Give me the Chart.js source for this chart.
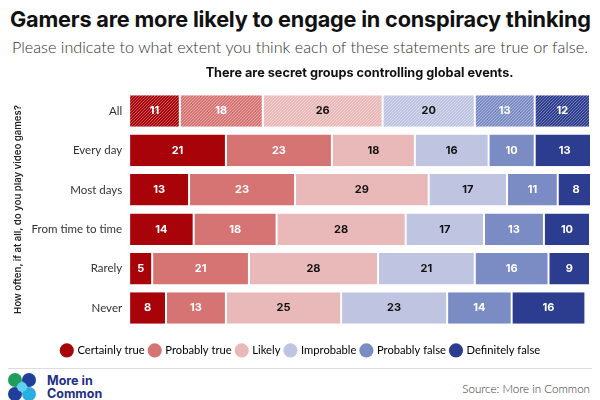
<!DOCTYPE html>
<html>
<head>
<meta charset="utf-8">
<script src="https://cdn.jsdelivr.net/npm/chart.js@4.4.0/dist/chart.umd.min.js"></script>
<style>
  html, body { margin: 0; padding: 0; background: #fff; }
  body { width: 600px; height: 400px; position: relative; overflow: hidden; font-family: Lato, "Noto Sans", sans-serif; }
  #title { position: absolute; left: 10px; top: 6px; font-family: Inter, sans-serif; font-weight: 700; font-size: 21.7px; color: #111; white-space: nowrap; letter-spacing: -0.2px; }
  #subtitle { position: absolute; left: 12px; top: 37px; font-size: 16.2px; color: #333; white-space: nowrap; font-weight: 300; }
  #wrap { position: absolute; left: 0; top: 62px; width: 600px; height: 304px; }
  #rule { position: absolute; left: 8px; right: 8px; top: 368px; border-top: 1px solid #ddd; }
  #logo { position: absolute; left: 8px; top: 373px; }
  #brand { position: absolute; left: 47px; top: 374px; font-family: Inter, sans-serif; font-weight: 700; font-size: 12.5px; line-height: 13px; color: #1f2f86; }
  #source { position: absolute; right: 10px; top: 382px; font-size: 11.6px; color: #333; font-weight: 300; }
</style>
</head>
<body>
<div id="title">Gamers are more likely to engage in conspiracy thinking</div>
<div id="subtitle">Please indicate to what extent you think each of these statements are true or false.</div>
<div id="wrap"><canvas id="myChart"></canvas></div>
<div id="rule"></div>
<svg id="logo" width="28" height="28" viewBox="0 0 28 28">
  <circle cx="7" cy="7" r="7" fill="#1e9e5a"/>
  <circle cx="21" cy="7" r="7" fill="#1f3f9a"/>
  <circle cx="7" cy="21" r="7" fill="#1f3f9a"/>
  <circle cx="21" cy="21" r="7" fill="#2aaee0"/>
  <circle cx="14" cy="14" r="5" fill="#5fd0f0"/>
</svg>
<div id="brand">More in<br>Common</div>
<div id="source">Source: More in Common</div>
<script>
var categories = ['All', 'Every day', 'Most days', 'From time to time', 'Rarely', 'Never'];
var seriesNames = ['Certainly true', 'Probably true', 'Likely', 'Improbable', 'Probably false', 'Definitely false'];
var certainlyTrue   = [11, 21, 13, 14, 5, 8];
var probablyTrue    = [18, 23, 23, 18, 21, 13];
var likely          = [26, 18, 29, 28, 28, 25];
var improbable      = [20, 16, 17, 17, 21, 23];
var probablyFalse   = [13, 10, 11, 13, 16, 14];
var definitelyFalse = [12, 13, 8, 10, 9, 16];

var colors = ['#a70308', '#d67474', '#e9b9b9', '#bfc4e1', '#7b8bc3', '#2c3c8e'];
var labelColors = ['#fff', '#fff', '#111', '#111', '#fff', '#fff'];

// striped fill for the "All" row
function stripes(color) {
    var c = document.createElement('canvas');
    c.width = 3; c.height = 3;
    var g = c.getContext('2d');
    g.fillStyle = color;
    g.fillRect(0, 0, 3, 3);
    g.strokeStyle = 'rgba(255,255,255,0.4)';
    g.lineWidth = 0.9;
    g.beginPath();
    g.moveTo(0, 3); g.lineTo(3, 0);
    g.moveTo(-1, 1); g.lineTo(1, -1);
    g.moveTo(2, 4); g.lineTo(4, 2);
    g.stroke();
    return g.createPattern(c, 'repeat');
}

var allData = [certainlyTrue, probablyTrue, likely, improbable, probablyFalse, definitelyFalse];
var datasets = allData.map(function(d, i) {
    var bg = d.map(function(v, j) { return j === 0 ? stripes(colors[i]) : colors[i]; });
    return {
        label: seriesNames[i],
        data: d,
        backgroundColor: bg,
        borderColor: '#fff',
        borderWidth: {left: 1, right: 1, top: 0, bottom: 0},
        borderSkipped: false,
        categoryPercentage: 0.8,
        barPercentage: 1
    };
});

// values written in the middle of each segment
var barValues = {
    id: 'barValues',
    afterDatasetsDraw: function(chart) {
        var ctx = chart.ctx;
        ctx.save();
        ctx.font = 'bold 11px Inter, sans-serif';
        ctx.textAlign = 'center';
        ctx.textBaseline = 'middle';
        chart.data.datasets.forEach(function(ds, i) {
            chart.getDatasetMeta(i).data.forEach(function(bar, j) {
                var p = bar.getProps(['x', 'y', 'base'], true);
                ctx.fillStyle = labelColors[i];
                ctx.fillText(ds.data[j], (p.x + p.base) / 2, p.y);
            });
        });
        ctx.restore();
    }
};

const ctx = document.getElementById('myChart').getContext('2d');
const myChart = new Chart(ctx, {
    type: 'bar',
    data: { labels: categories, datasets: datasets },
    plugins: [barValues],
    options: {
        indexAxis: 'y',
        responsive: true,
        maintainAspectRatio: false,
        animation: false,
        layout: { padding: { left: 12, right: 10, top: 0, bottom: 0 } },
        plugins: {
            title: {
                display: true,
                fullSize: false,
                text: 'There are secret groups controlling global events.',
                font: { family: 'Inter, sans-serif', size: 12.7, weight: 'bold' },
                color: '#111',
                padding: { top: 4, bottom: 10 }
            },
            legend: {
                position: 'bottom',
                labels: {
                    usePointStyle: true,
                    pointStyle: 'circle',
                    boxWidth: 10,
                    boxHeight: 10,
                    padding: 5,
                    color: '#333',
                    font: { family: 'Lato, sans-serif', size: 11.2 },
                    generateLabels: function(chart) {
                        return chart.data.datasets.map(function(ds, i) {
                            return { text: ds.label, fillStyle: colors[i], strokeStyle: colors[i], lineWidth: 0, pointStyle: 'circle', datasetIndex: i };
                        });
                    }
                }
            },
            tooltip: { enabled: false }
        },
        scales: {
            x: {
                stacked: true, min: 0, max: 100,
                grid: { display: false, drawTicks: false },
                border: { display: false },
                ticks: { display: false },
                // empty title keeps a gap above the legend
                title: { display: true, text: ' ', font: { size: 10 }, padding: 0 }
            },
            y: {
                stacked: true,
                grid: { display: false, drawTicks: false },
                border: { display: false },
                ticks: { color: '#333', font: { family: 'Lato, sans-serif', size: 11.5 }, padding: 7 },
                title: {
                    display: true,
                    text: 'How often, if at all, do you play video games?',
                    color: '#222',
                    font: { family: 'Inter, sans-serif', size: 9.6, weight: '600' },
                    padding: { top: 0, bottom: 1 }
                }
            }
        }
    }
});
</script>
</body>
</html>
